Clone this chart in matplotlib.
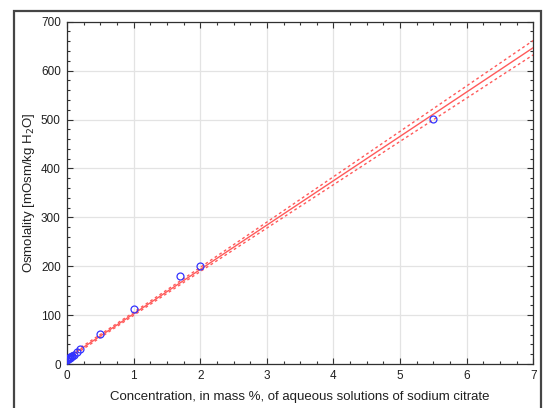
import matplotlib
matplotlib.use('Agg')
import matplotlib.pyplot as plt
from matplotlib.patches import Rectangle
from matplotlib.ticker import MultipleLocator
import numpy as np

plt.rcParams['font.family'] = ['Liberation Sans', 'DejaVu Sans']

# measured points: concentration (mass %) vs osmolality (mOsm/kg H2O)
conc = [0.005, 0.01, 0.02, 0.03, 0.04, 0.05, 0.06, 0.07, 0.08, 0.1, 0.15, 0.2,
        0.5, 1.0, 1.7, 2.0, 5.5]
osmol = [9, 10, 11, 12, 13, 14, 15, 16, 17, 19, 24, 30,
         62, 112, 181, 200, 502]
t_crit = 2.131  # 95 %, n-2 = 15 dof

x = np.array(conc)
y = np.array(osmol)
n = len(x)
slope, icpt = np.polyfit(x, y, 1)
resid = y - (icpt + slope * x)
s = np.sqrt(np.sum(resid ** 2) / (n - 2))
sxx = np.sum((x - x.mean()) ** 2)

xf = np.linspace(0, 7, 200)
yf = icpt + slope * xf
band = t_crit * s * np.sqrt(1.0 / n + (xf - x.mean()) ** 2 / sxx)

fig = plt.figure(figsize=(5.48, 4.08), dpi=100)
ax = fig.add_axes([0.1223, 0.1078, 0.8509, 0.839])

# outer frame (bottom edge falls outside the image)
fig.patches.append(Rectangle((14 / 548, -0.05), (541 - 14) / 548, 1.05 - 11 / 408,
                             transform=fig.transFigure, fill=False,
                             edgecolor='#454545', linewidth=1.6))

ax.plot(xf, yf, '-', color='#ff5a5a', lw=1.0, zorder=3)
ax.plot(xf, yf + band, color='#ff5a5a', lw=1.0, ls=(0, (2, 2)), zorder=3)
ax.plot(xf, yf - band, color='#ff5a5a', lw=1.0, ls=(0, (2, 2)), zorder=3)
ax.plot(x, y, 'o', mfc='none', mec='#3333ff', ms=5, mew=0.9, zorder=4)

ax.set_xlim(0, 7)
ax.set_ylim(0, 700)
ax.xaxis.set_major_locator(MultipleLocator(1))
ax.xaxis.set_minor_locator(MultipleLocator(0.25))
ax.yaxis.set_major_locator(MultipleLocator(100))
ax.yaxis.set_minor_locator(MultipleLocator(20))
ax.tick_params(which='both', direction='in', top=True, right=True,
               labelsize=8.5, colors='#303030', labelcolor='#202020', width=0.8)
ax.tick_params(which='major', length=4, pad=4.5)
ax.tick_params(which='minor', length=2.5)
ax.grid(True, which='major', color='#e3e3e3', lw=0.9)
ax.set_axisbelow(True)
for sp in ax.spines.values():
    sp.set_color('#303030')
    sp.set_linewidth(0.9)

ax.set_xlabel('Concentration, in mass %, of aqueous solutions of sodium citrate',
              fontsize=9.5, labelpad=6, color='#202020')
ax.set_ylabel('Osmolality [mOsm/kg H$_2$O]', fontsize=9.5, labelpad=3, color='#202020')

fig.savefig('out.png', dpi=100)
